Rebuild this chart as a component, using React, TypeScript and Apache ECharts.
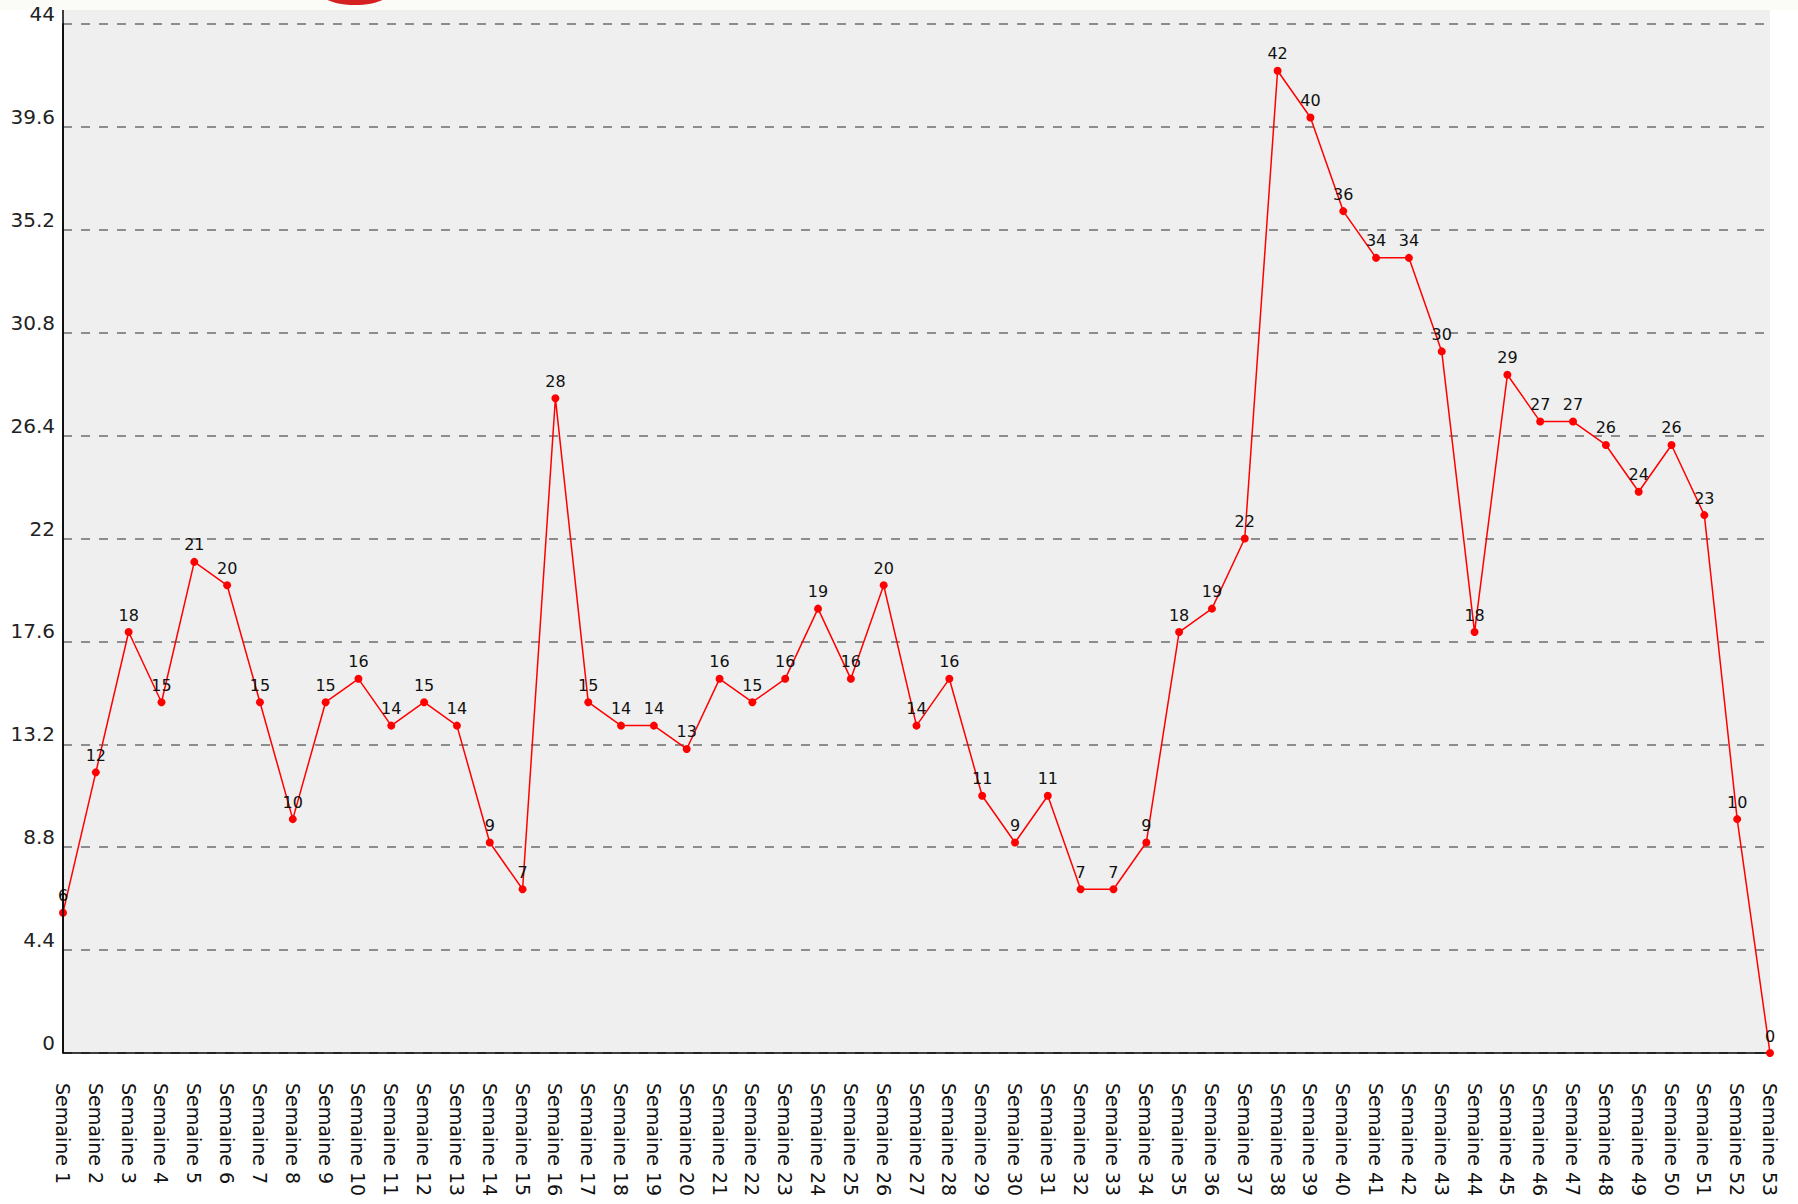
import React, { useEffect, useRef } from "react";
import * as echarts from "echarts";

const categories: string[] = [];
for (let i = 1; i <= 53; i++) categories.push("Semaine " + i);

const values = [
  6, 12, 18, 15, 21, 20, 15, 10, 15, 16,
  14, 15, 14, 9, 7, 28, 15, 14, 14, 13,
  16, 15, 16, 19, 16, 20, 14, 16, 11, 9,
  11, 7, 7, 9, 18, 19, 22, 42, 40, 36,
  34, 34, 30, 18, 29, 27, 27, 26, 24, 26,
  23, 10, 0,
];

const yMin = 0;
const yMax = 44;
const yInterval = 4.4;

const GRID_LEFT = 63;
const GRID_RIGHT = 28;
const GRID_TOP = 24;
const GRID_BOTTOM = 151;
const W = 1798;
const H = 1204;

export default function App() {
  const ref = useRef<HTMLDivElement>(null);
  useEffect(() => {
    if (!ref.current) return;
    const chart = echarts.init(ref.current, undefined, { renderer: "svg" });
    const plotRight = W - GRID_RIGHT;
    const plotBottom = H - GRID_BOTTOM;
    chart.setOption({
      animation: false,
      backgroundColor: "#ffffff",
      textStyle: { fontFamily: "DejaVu Sans" },
      graphic: [
        {
          type: "rect",
          z: -100,
          silent: true,
          shape: { x: GRID_LEFT, y: 10, width: plotRight - GRID_LEFT, height: plotBottom - 10 },
          style: { fill: "#efefef" },
        },
        {
          type: "rect",
          z: -100,
          silent: true,
          shape: { x: 0, y: 0, width: W, height: 10 },
          style: { fill: "#fbfbf8" },
        },
        {
          type: "ellipse",
          z: -90,
          silent: true,
          shape: { cx: 355, cy: -8, rx: 35, ry: 13 },
          style: { fill: "#d42020" },
        },
        {
          type: "line",
          z: 50,
          silent: true,
          shape: { x1: GRID_LEFT, y1: 10, x2: GRID_LEFT, y2: plotBottom },
          style: { stroke: "#000000", lineWidth: 1.5 },
        },
      ],
      grid: {
        left: GRID_LEFT,
        right: GRID_RIGHT,
        top: GRID_TOP,
        bottom: GRID_BOTTOM,
        containLabel: false,
      },
      xAxis: {
        type: "category",
        data: categories,
        boundaryGap: false,
        axisLine: { show: true, lineStyle: { color: "#000000", width: 1.5 } },
        axisTick: { show: false },
        splitLine: { show: false },
        axisLabel: {
          interval: 0,
          rotate: -90,
          margin: 30,
          fontSize: 19,
          color: "#111111",
          fontFamily: "DejaVu Sans",
        },
      },
      yAxis: {
        type: "value",
        min: yMin,
        max: yMax,
        interval: yInterval,
        axisLine: { show: true, lineStyle: { color: "#000000", width: 1.5 } },
        axisTick: { show: false },
        axisLabel: {
          margin: 8,
          fontSize: 20,
          color: "#222222",
          fontFamily: "DejaVu Sans",
          verticalAlign: "bottom",
          formatter: (v: number) => String(Math.round(v * 10) / 10),
        },
        splitLine: {
          show: true,
          lineStyle: { color: "#6e6e6e", width: 1.6, type: [9, 9] },
        },
      },
      series: [
        {
          type: "line",
          data: values,
          symbol: "circle",
          symbolSize: 8,
          color: "#ff0000",
          lineStyle: { color: "#ff0000", width: 1.5 },
          itemStyle: { color: "#ff0000" },
          label: {
            show: true,
            position: "top",
            distance: 5,
            fontSize: 16,
            color: "#111111",
            fontFamily: "DejaVu Sans",
          },
          z: 10,
        },
      ],
    });
    return () => chart.dispose();
  }, []);
  return <div ref={ref} style={{ width: W, height: H, position: "absolute", left: 0, top: 0 }} />;
}
